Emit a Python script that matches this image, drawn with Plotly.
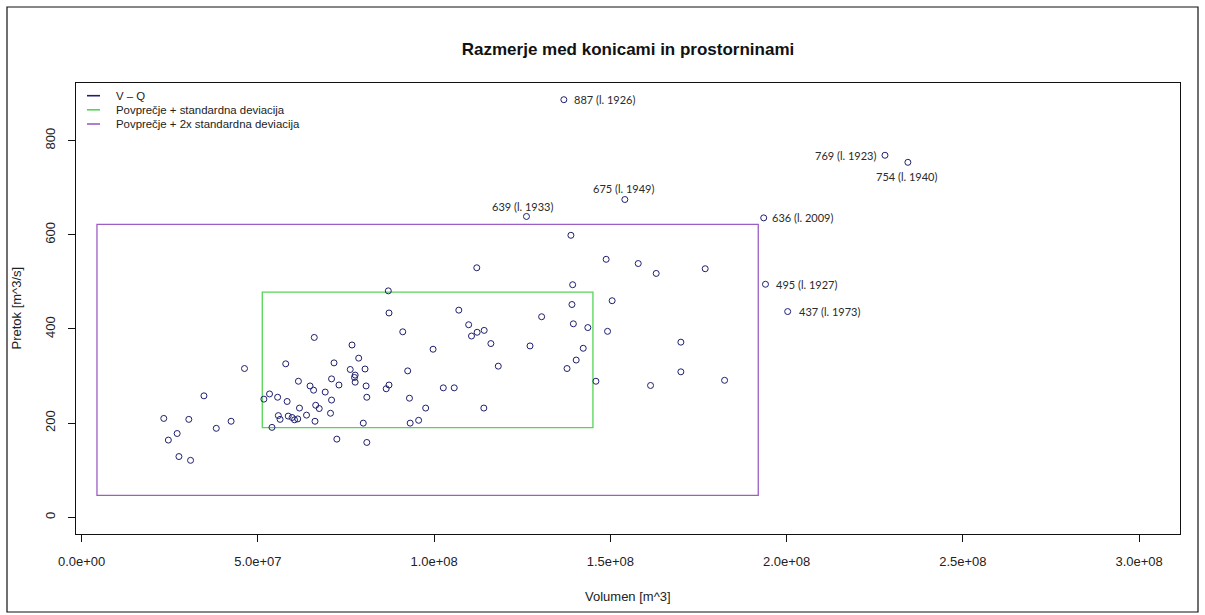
import plotly.graph_objects as go

# --- podatki: volumen (mio m^3) in konicni pretok (m^3/s) ---
volumen_mio = [
    66.0, 57.9, 71.6, 46.2, 61.5, 64.8, 65.8, 70.9, 73.0, 69.1,
    34.7, 53.3, 51.7, 55.6, 58.3, 70.9, 66.4, 67.4, 61.8, 70.6,
    63.8, 55.8, 56.3, 58.6, 59.7, 60.4, 61.3, 66.2, 23.3, 30.4,
    42.4, 38.2, 54.0, 27.1, 24.6, 72.4, 27.6, 30.9, 87.0, 87.2,
    107.0, 109.8, 112.2, 110.6, 91.1, 76.7, 99.7, 78.6, 76.2, 80.4,
    92.5, 77.6, 77.4, 77.6, 80.7, 86.4, 87.2, 102.6, 105.7, 80.9,
    93.0, 97.6, 79.9, 93.2, 95.6, 80.9, 138.8, 148.8, 157.9, 163.0,
    176.9, 112.1, 139.3, 150.5, 139.1, 130.5, 139.5, 143.6, 149.2, 114.2,
    116.1, 127.2, 142.3, 170.0, 118.2, 140.3, 137.7, 170.0, 145.9, 161.4,
    114.1, 182.4,
]
pretok = [
    382, 326, 328, 316, 289, 279, 270, 294, 281, 266,
    258, 262, 251, 255, 246, 249, 238, 231, 232, 221,
    217, 216, 208, 215, 212, 207, 209, 204, 210, 208,
    204, 189, 191, 178, 164, 166, 129, 121, 481, 434,
    440, 409, 393, 385, 394, 366, 357, 338, 314, 315,
    311, 302, 297, 287, 279, 273, 281, 275, 275, 255,
    253, 232, 200, 200, 206, 159, 599, 548, 539, 518,
    528, 530, 494, 460, 452, 426, 411, 403, 395, 397,
    369, 364, 359, 372, 321, 334, 316, 309, 289, 280,
    232, 291,
]

# izstopajoci dogodki z oznako leta
izst_volumen_mio = [136.8, 227.9, 234.4, 154.1, 126.2, 193.5, 194.0, 200.3]
izst_pretok = [887, 769, 754, 675, 639, 636, 495, 437]
izst_leto = [1926, 1923, 1940, 1949, 1933, 2009, 1927, 1973]

# povprecje in standardna deviacija
povp_volumen = 98.15e6
std_volumen = 46.9e6
povp_pretok = 334.5
std_pretok = 143.9

x_tick_vals = [0, 5e7, 1e8, 1.5e8, 2e8, 2.5e8, 3e8]
x_tick_text = ["0.0e+00", "5.0e+07", "1.0e+08", "1.5e+08", "2.0e+08", "2.5e+08", "3.0e+08"]
y_tick_vals = [0, 200, 400, 600, 800]

legend_labels = ["V \u2013 Q", "Povpre\u010dje + standardna deviacija",
                 "Povpre\u010dje + 2x standardna deviacija"]

# --- postavitev ---
W, H = 1205, 615
ML, MR, MT, MB = 76, 25, 83, 81
PW, PH = W - ML - MR, H - MT - MB

xlim = (1e7, 3e8)
ylim = (0, max(izst_pretok))
pad_x = 0.04 * (xlim[1] - xlim[0])
pad_y = 0.04 * (ylim[1] - ylim[0])

NAVY = "#1f1f6e"
GREEN = "#55d455"
PURPLE = "#9c5ec4"
AXIS_FONT = "Liberation Sans, Arial, sans-serif"


def px_x(px):
    return (px - ML) / PW


def px_y(py):
    return (H - MB - py) / PH


vol_all = [v * 1e6 for v in volumen_mio + izst_volumen_mio]
q_all = pretok + izst_pretok

fig = go.Figure()
fig.add_trace(go.Scatter(
    x=vol_all, y=q_all, mode="markers",
    marker=dict(symbol="circle-open", size=6, color=NAVY, line=dict(width=1, color=NAVY)),
    showlegend=False, hoverinfo="x+y",
))

shapes = []
# pravokotnika povprecje +/- k * standardna deviacija
for k, col in ((1, GREEN), (2, PURPLE)):
    shapes.append(dict(
        type="rect", xref="x", yref="y",
        x0=povp_volumen - k * std_volumen, x1=povp_volumen + k * std_volumen,
        y0=povp_pretok - k * std_pretok, y1=povp_pretok + k * std_pretok,
        line=dict(color=col, width=1.3), fillcolor="rgba(0,0,0,0)", layer="below",
    ))

# oznake izstopajocih dogodkov
placement = {
    1926: dict(xanchor="left", yanchor="middle", xshift=8, yshift=0),
    1923: dict(xanchor="right", yanchor="middle", xshift=-7, yshift=0),
    1940: dict(xanchor="center", yanchor="middle", xshift=-1, yshift=-14),
    1949: dict(xanchor="center", yanchor="middle", xshift=-1, yshift=11),
    1933: dict(xanchor="center", yanchor="middle", xshift=-4, yshift=10),
    2009: dict(xanchor="left", yanchor="middle", xshift=6, yshift=0),
    1927: dict(xanchor="left", yanchor="middle", xshift=9, yshift=0),
    1973: dict(xanchor="left", yanchor="middle", xshift=9, yshift=0),
}
annotations = []
for v, q, leto in zip(izst_volumen_mio, izst_pretok, izst_leto):
    annotations.append(dict(
        x=v * 1e6, y=q, xref="x", yref="y", text=f"{q} (l. {leto})",
        showarrow=False, font=dict(family="Lato, sans-serif", size=11, color="#2a2a2a"),
        **placement[leto],
    ))

# legenda
leg_colors = [NAVY, GREEN, PURPLE]
leg_y = [95.7, 109.8, 124.0]
for lab, col, ly in zip(legend_labels, leg_colors, leg_y):
    shapes.append(dict(type="line", xref="paper", yref="paper",
                       x0=px_x(87), x1=px_x(100), y0=px_y(ly), y1=px_y(ly),
                       line=dict(color=col, width=1.6)))
    annotations.append(dict(xref="paper", yref="paper", x=px_x(114), y=px_y(ly),
                            xanchor="left", yanchor="middle", text=lab, showarrow=False,
                            font=dict(family=AXIS_FONT, size=11.4, color="#222")))

# naslovi osi
annotations.append(dict(xref="paper", yref="paper", x=0.5, y=px_y(596),
                        xanchor="center", yanchor="middle", text="Volumen [m^3]",
                        showarrow=False, font=dict(family=AXIS_FONT, size=13, color="#222")))
annotations.append(dict(xref="paper", yref="paper", x=px_x(16), y=0.5,
                        xanchor="center", yanchor="middle", text="Pretok [m^3/s]", textangle=-90,
                        showarrow=False, font=dict(family=AXIS_FONT, size=13, color="#222")))

# okvir slike
shapes.append(dict(type="rect", xref="paper", yref="paper",
                   x0=px_x(7), x1=px_x(1198), y0=px_y(612), y1=px_y(7),
                   line=dict(color="#111", width=1.2), fillcolor="rgba(0,0,0,0)"))

fig.update_layout(
    width=W, height=H,
    margin=dict(l=ML, r=MR, t=MT, b=MB, autoexpand=False),
    paper_bgcolor="white", plot_bgcolor="white",
    title=dict(text="<b>Razmerje med konicami in prostorninami</b>",
               x=0.5, xref="paper", xanchor="center", y=1 - 49 / H, yanchor="middle",
               font=dict(family=AXIS_FONT, size=17, color="#111")),
    xaxis=dict(range=[xlim[0] - pad_x, xlim[1] + pad_x], tickvals=x_tick_vals, ticktext=x_tick_text,
               showgrid=False, zeroline=False, showline=True, mirror=True, linecolor="#111",
               linewidth=1, ticks="outside", ticklen=7, tickcolor="#111",
               tickfont=dict(family=AXIS_FONT, size=13, color="#222"), ticklabelstandoff=8),
    yaxis=dict(range=[ylim[0] - pad_y, ylim[1] + pad_y], tickvals=y_tick_vals,
               showgrid=False, zeroline=False, showline=True, mirror=True, linecolor="#111",
               linewidth=1, ticks="outside", ticklen=7, tickcolor="#111", tickangle=-90,
               tickfont=dict(family=AXIS_FONT, size=13, color="#222"), ticklabelstandoff=8),
    shapes=shapes, annotations=annotations, showlegend=False,
)

fig.write_html("out.html")
